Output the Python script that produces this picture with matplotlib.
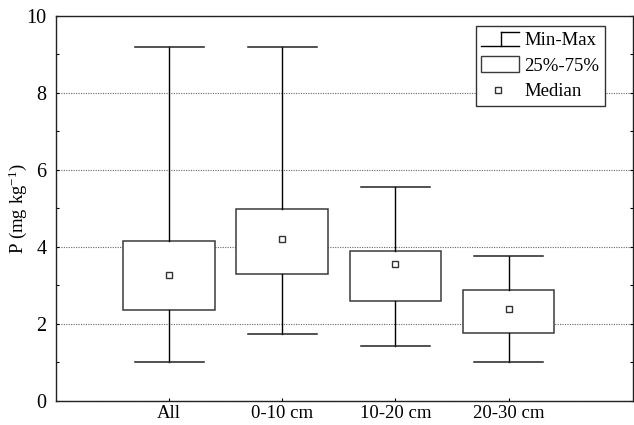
import matplotlib
matplotlib.use("Agg")
import matplotlib.pyplot as plt
from matplotlib.lines import Line2D
from matplotlib.patches import Rectangle
from matplotlib.legend_handler import HandlerBase
from matplotlib.ticker import MultipleLocator

plt.rcParams['font.family'] = ['Liberation Serif', 'DejaVu Serif']
plt.rcParams['mathtext.fontset'] = 'custom'
plt.rcParams['mathtext.rm'] = 'Liberation Serif'
plt.rcParams['mathtext.default'] = 'regular'

categories = ["All", "0-10 cm", "10-20 cm", "20-30 cm"]
mins = [1.00, 1.72, 1.42, 1.00]
q1 = [2.35, 3.28, 2.60, 1.76]
medians = [3.26, 4.21, 3.54, 2.38]
q3 = [4.16, 4.97, 3.88, 2.87]
maxs = [9.19, 9.19, 5.56, 3.77]
ylabel = r"P (mg kg$^{-1}$)"
legend_labels = ["Min-Max", "25%-75%", "Median"]

fig = plt.figure(figsize=(6.34, 4.25), dpi=100)
ax = fig.add_axes([56/634, (425-400.5)/425, (633-56)/634, (400.5-16)/425])

positions = list(range(1, len(categories) + 1))
stats = [dict(med=m, q1=a, q3=b, whislo=lo, whishi=hi, label=c)
         for c, lo, a, m, b, hi in zip(categories, mins, q1, medians, q3, maxs)]

edge = "#3a3a3a"
ax.bxp(stats, positions=positions, widths=0.81, capwidths=0.61,
       showfliers=False, patch_artist=True,
       boxprops=dict(facecolor="white", edgecolor=edge, linewidth=1.1),
       whiskerprops=dict(color="black", linewidth=1.0),
       capprops=dict(color="#222222", linewidth=1.1),
       medianprops=dict(linestyle="none"), zorder=3)
ax.plot(positions, medians, linestyle="none", marker="s", markersize=5,
        markerfacecolor="white", markeredgecolor="#333333",
        markeredgewidth=1.0, zorder=4)

ax.set_xlim(0, 5.1)
ax.set_ylim(0, 10)
ax.set_xticks(positions)
ax.set_xticklabels(categories)
ax.yaxis.set_major_locator(MultipleLocator(2))
ax.yaxis.set_minor_locator(MultipleLocator(1))
ax.tick_params(axis='y', which='both', direction='in', left=True, right=True,
               labelsize=14.5, length=2, width=0.8, pad=7)
ax.tick_params(axis='x', direction='in', length=2, width=0.8, labelsize=13.5, pad=3)
ax.yaxis.grid(True, which='major', linestyle=(0, (1, 1.2)), color="#666666", linewidth=0.8)
ax.set_axisbelow(True)
for s in ax.spines.values():
    s.set_linewidth(1.0)
    s.set_color("#222222")
ax.set_ylabel(ylabel, fontsize=13.5)
ax.yaxis.set_label_coords(-27/577, 0.5)


class WhiskerHandler(HandlerBase):
    def create_artists(self, legend, orig_handle, xd, yd, width, height, fontsize, trans):
        x0, x1 = -xd, -xd + width
        yb = -yd + height * 0.0
        yt = -yd + height * 1.0
        xm = x0 + width * 0.52
        arts = [Line2D([x0, x1], [yb, yb], color="black", lw=1.0),
                Line2D([xm, xm], [yb, yt], color="black", lw=1.0),
                Line2D([xm, x1], [yt, yt], color="black", lw=1.0)]
        for a in arts:
            a.set_transform(trans)
        return arts


class BoxHandler(HandlerBase):
    def create_artists(self, legend, orig_handle, xd, yd, width, height, fontsize, trans):
        r = Rectangle((-xd, -yd - height * 0.05), width, height * 1.1, facecolor="white",
                      edgecolor=edge, lw=1.0, transform=trans)
        return [r]


class MedHandler(HandlerBase):
    def create_artists(self, legend, orig_handle, xd, yd, width, height, fontsize, trans):
        m = Line2D([-xd + width * 0.45], [-yd + height * 0.5], linestyle="none",
                   marker="s", markersize=4.5, markerfacecolor="white",
                   markeredgecolor="#333333", markeredgewidth=1.0, transform=trans)
        return [m]


h1, h2, h3 = object(), object(), object()
leg = ax.legend([h1, h2, h3], legend_labels,
                handler_map={h1: WhiskerHandler(), h2: BoxHandler(), h3: MedHandler()},
                loc="upper right", bbox_to_anchor=((605 - 56) / 577, 1 - 10/384.5),
                bbox_transform=ax.transAxes,
                fontsize=13.5, frameon=True, fancybox=False, framealpha=1,
                edgecolor="#333333", handlelength=2.0, handleheight=0.8,
                handletextpad=0.3, labelspacing=0.42, borderpad=0.3,
                borderaxespad=0)
leg.get_frame().set_linewidth(1.0)

fig.savefig("out.png", dpi=100)
